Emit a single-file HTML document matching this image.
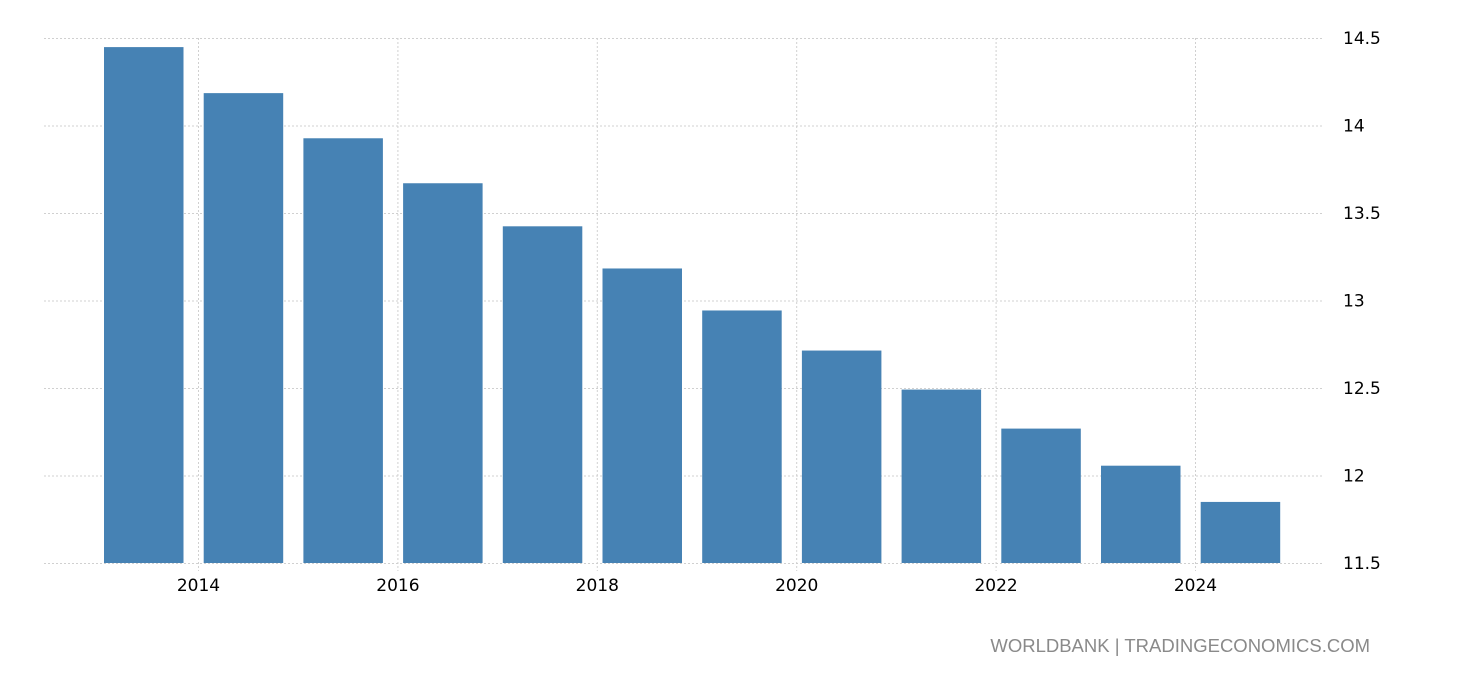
<!DOCTYPE html>
<html><head><meta charset="utf-8"><style>
body{margin:0;background:#fff;width:1460px;height:680px;overflow:hidden;font-family:"Liberation Sans","DejaVu Sans",sans-serif}
</style></head><body>
<svg id="chart" width="1460" height="680" xmlns="http://www.w3.org/2000/svg">
<g id="grid"></g>
<g id="bars"></g>
<g id="xaxis"></g>
<g id="yaxis"></g>
<text x="1370" y="652" text-anchor="end" font-size="18.5" fill="#8a8a8a">WORLDBANK | TRADINGECONOMICS.COM</text>
</svg>
<script>
const years = [2013,2014,2015,2016,2017,2018,2019,2020,2021,2022,2023,2024];
const values = [14.448,14.185,13.927,13.67,13.424,13.183,12.943,12.714,12.491,12.268,12.056,11.849];
const yTicks = [11.5,12,12.5,13,13.5,14,14.5];
const yTickLabels = ["11.5","12","12.5","13","13.5","14","14.5"];
const xTicks = [2014,2016,2018,2020,2022,2024];

const NS="http://www.w3.org/2000/svg";
const yMin=11.5,yMax=14.5,yTop=38,yBot=563;
const y=v=>yBot-(v-yMin)/(yMax-yMin)*(yBot-yTop);
const pitch=99.7, x0=104;
const xBar=i=>x0+i*pitch;
const xYear=yr=>198.5+(yr-2014)*pitch;
function mk(t,a,p){const e=document.createElementNS(NS,t);for(const k in a)e.setAttribute(k,a[k]);p.appendChild(e);return e;}
const grid=document.getElementById('grid'),bars=document.getElementById('bars'),xa=document.getElementById('xaxis'),ya=document.getElementById('yaxis');
const tickFont='"DejaVu Sans", sans-serif';
yTicks.forEach((v,i)=>{
  const l=mk('line',{x1:44,x2:1322,y1:y(v)+0.5,y2:y(v)+0.5,stroke:'#d0d0d0','stroke-dasharray':'2,2'},grid);
  
  
  const t=mk('text',{x:1343,y:y(v)+6,'font-size':17,fill:'#000','font-family':tickFont},ya);
  t.textContent=yTickLabels[i];
  
  
});
xTicks.forEach(yr=>{
  const l=mk('line',{x1:xYear(yr),x2:xYear(yr),y1:yTop,y2:yBot+8,stroke:'#d0d0d0','stroke-dasharray':'2,2'},grid);
  
  
  const t=mk('text',{x:xYear(yr),y:591,'font-size':17,fill:'#000','text-anchor':'middle','font-family':tickFont},xa);
  t.textContent=yr;
  
  
});
values.forEach((v,i)=>{
  const r=mk('rect',{x:xBar(i),y:y(v),width:79.5,height:yBot-y(v),fill:'#4682b4'},bars);
  
  
});
</script>
</body></html>
